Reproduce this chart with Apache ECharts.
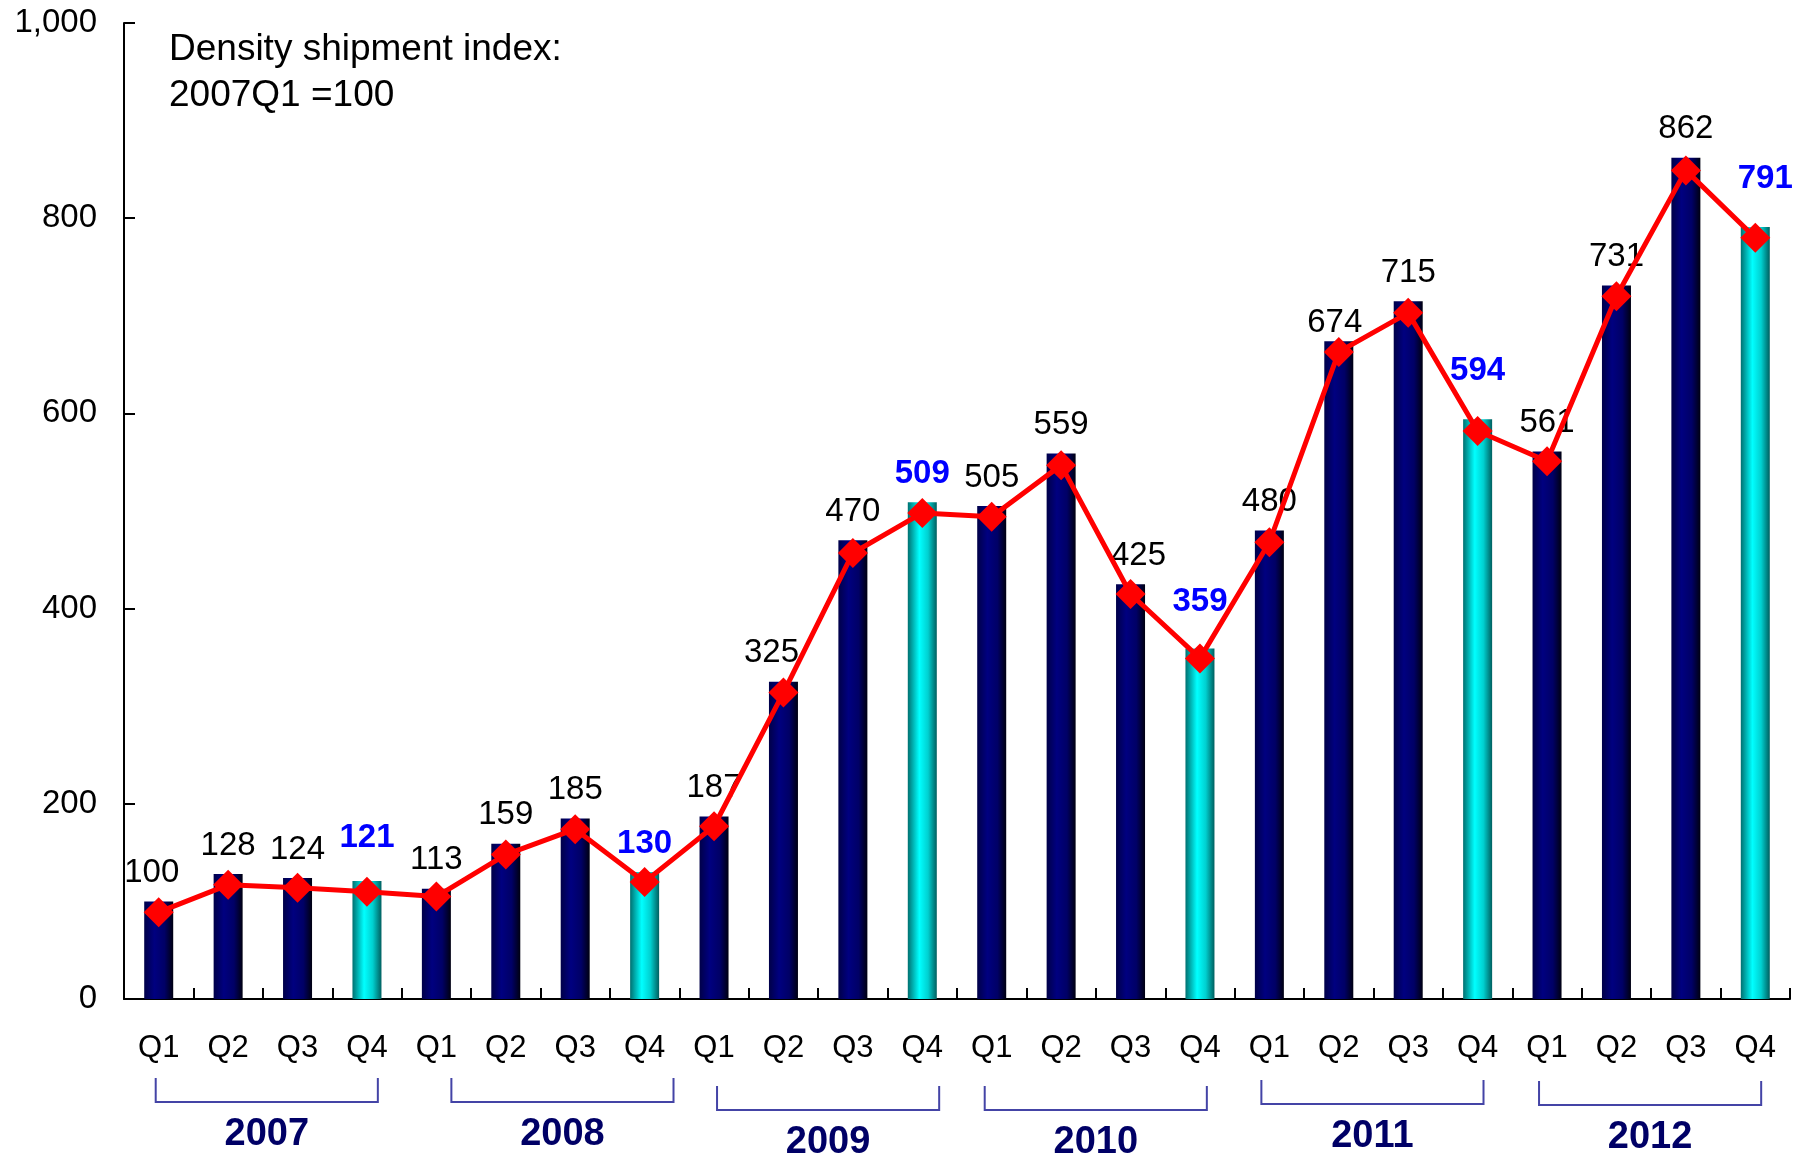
<!DOCTYPE html>
<html>
<head>
<meta charset="utf-8">
<script src="https://cdn.jsdelivr.net/npm/echarts@6/dist/echarts.min.js"></script>
<style>
  html, body { margin: 0; padding: 0; background: #fff; }
  #chart { width: 1803px; height: 1157px; }
</style>
</head>
<body>
<div id="chart"></div>
<script>
// data
const years = ['2007', '2008', '2009', '2010', '2011', '2012'];
const quarters = ['Q1', 'Q2', 'Q3', 'Q4'];
const barValues = [100, 128, 124, 121, 113, 159, 185, 130, 187, 325, 470, 509,
                   505, 559, 425, 359, 480, 674, 715, 594, 561, 731, 862, 791];
const lineValues = [89, 117, 114, 110, 105, 148, 174, 120, 177, 314, 457, 498,
                    494, 547, 415, 349, 468, 663, 703, 582, 551, 720, 849, 780];
const yTicks = [0, 200, 400, 600, 800, 1000];

// category ids, one per quarter
const categories = [];
years.forEach(y => quarters.forEach(q => categories.push(y + ' ' + q)));

// small hand tweaks of where some labels sit (x, y in px)
const labelShift = {0: [-7, 0], 3: [0, -14], 9: [-12, 0], 14: [8, 0], 15: [0, -18],
                    17: [-4, 10], 19: [0, -20], 23: [10, -20]};
// bracket placement under each year
const bracketShift = [-3, 15, 3, -7, -8, -8];
const bracketY = [1102, 1102, 1110, 1110, 1104, 1105];

const FONT = 'Liberation Sans, Arial, Helvetica, sans-serif';

const navy = new echarts.graphic.LinearGradient(0, 0, 1, 0, [
  {offset: 0, color: '#000048'},
  {offset: 0.35, color: '#000080'},
  {offset: 0.7, color: '#000066'},
  {offset: 1, color: '#000010'}
]);
const cyan = new echarts.graphic.LinearGradient(0, 0, 1, 0, [
  {offset: 0, color: '#007070'},
  {offset: 0.4, color: '#00ffff'},
  {offset: 0.7, color: '#00d0d0'},
  {offset: 1, color: '#005f5f'}
]);

const barData = barValues.map((v, i) => {
  const q4 = i % 4 === 3;
  const s = labelShift[i] || [0, 0];
  return {
    value: v,
    itemStyle: {color: q4 ? cyan : navy},
    label: {
      color: q4 ? '#0000ff' : '#000',
      fontWeight: q4 ? 'bold' : 'normal',
      offset: s
    }
  };
});

const chart = echarts.init(document.getElementById('chart'), null, {renderer: 'canvas'});

chart.setOption({
  animation: false,
  backgroundColor: '#fff',
  textStyle: {fontFamily: FONT},
  title: {
    text: 'Density shipment index:\n2007Q1 =100',
    left: 164,
    top: 22,
    textStyle: {fontSize: 37, fontWeight: 'normal', color: '#000', lineHeight: 46, fontFamily: FONT}
  },
  grid: {left: 124, right: 13, top: 23, bottom: 158, containLabel: false},
  xAxis: {
    type: 'category',
    data: categories,
    boundaryGap: true,
    axisLine: {lineStyle: {color: '#000', width: 2}},
    axisTick: {show: true, inside: true, length: 11, interval: 0, lineStyle: {color: '#000', width: 2}},
    axisLabel: {
      interval: 0,
      margin: 34,
      fontSize: 31,
      color: '#000',
      fontFamily: FONT,
      formatter: v => v.split(' ')[1]
    },
    splitLine: {show: false}
  },
  yAxis: {
    type: 'value',
    min: yTicks[0],
    max: yTicks[yTicks.length - 1],
    interval: 200,
    axisLine: {show: true, lineStyle: {color: '#000', width: 2}},
    axisTick: {show: true, inside: true, length: 11, lineStyle: {color: '#000', width: 2}},
    axisLabel: {
      margin: 27,
      fontSize: 33,
      color: '#000',
      fontFamily: FONT,
      formatter: v => v.toLocaleString('en-US')
    },
    splitLine: {show: false}
  },
  series: [
    {
      name: 'index',
      type: 'bar',
      barWidth: 29,
      data: barData,
      label: {
        show: true,
        position: 'top',
        distance: 12,
        fontSize: 33,
        lineHeight: 33,
        fontFamily: FONT
      },
      z: 2
    },
    {
      name: 'trend',
      type: 'line',
      data: lineValues,
      symbol: 'diamond',
      symbolSize: 30,
      lineStyle: {color: '#ff0000', width: 5},
      itemStyle: {color: '#ff0000'},
      z: 3
    }
  ]
});

// year brackets under the quarter labels
function drawYears() {
  const els = [];
  const step = chart.convertToPixel({xAxisIndex: 0}, categories[1]) - chart.convertToPixel({xAxisIndex: 0}, categories[0]);
  years.forEach((yr, i) => {
    const x0 = chart.convertToPixel({xAxisIndex: 0}, categories[i * 4]) + bracketShift[i];
    const x1 = x0 + step * 3.2;
    const y = bracketY[i];
    els.push({
      type: 'polyline',
      shape: {points: [[x0, y - 24], [x0, y], [x1, y], [x1, y - 24]]},
      style: {stroke: '#4444a6', lineWidth: 2, fill: null}
    });
    els.push({
      type: 'text',
      style: {
        text: yr, x: (x0 + x1) / 2, y: y + 33,
        align: 'center', verticalAlign: 'middle',
        fontSize: 38, fontWeight: 'bold', fontFamily: FONT, fill: '#000066'
      }
    });
  });
  chart.setOption({graphic: els});
}
drawYears();
</script>
</body>
</html>
